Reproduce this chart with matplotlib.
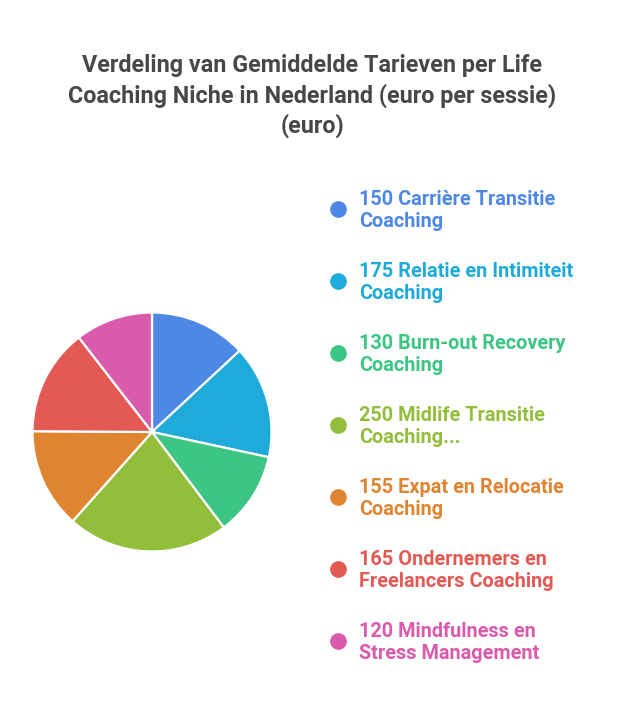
import matplotlib
matplotlib.use("Agg")
import matplotlib.pyplot as plt
from matplotlib.lines import Line2D

categories = [
    "Carrière Transitie\nCoaching",
    "Relatie en Intimiteit\nCoaching",
    "Burn-out Recovery\nCoaching",
    "Midlife Transitie\nCoaching...",
    "Expat en Relocatie\nCoaching",
    "Ondernemers en\nFreelancers Coaching",
    "Mindfulness en\nStress Management",
]
values = [150, 175, 130, 250, 155, 165, 120]
colors = ["#4E88E5", "#1FABDA", "#3CC583", "#93BE3B", "#DF8430", "#E35A55", "#DA5AAB"]
title = "Verdeling van Gemiddelde Tarieven per Life\nCoaching Niche in Nederland (euro per sessie)\n(euro)"

W, H = 628, 714
fig = plt.figure(figsize=(W / 100, H / 100), dpi=100)
fig.patch.set_facecolor("white")

cx, cy, r = 152, 432, 119.5
ax = fig.add_axes([(cx - r) / W, (H - cy - r) / H, 2 * r / W, 2 * r / H])
ax.pie(values, colors=colors, startangle=90, counterclock=False, radius=1,
       wedgeprops=dict(edgecolor="white", linewidth=1.6))
ax.set_xlim(-1, 1)
ax.set_ylim(-1, 1)
ax.set_aspect("equal")
ax.axis("off")

fig.text(312 / W, 1 - 96 / H, title, ha="center", va="center", fontsize=16.8,
         fontweight="bold", family="Roboto", color="#474747", linespacing=1.34)

y0 = 209
step = 72
for i, (cat, v, c) in enumerate(zip(categories, values, colors)):
    y = y0 + i * step
    fig.add_artist(Line2D([338 / W], [1 - y / H], marker="o", markersize=11,
                          color=c, transform=fig.transFigure))
    fig.text(359 / W, 1 - (y + 1.5) / H, f"{v} {cat}", ha="left", va="center",
             fontsize=14.3, fontweight="bold", family="Roboto", color=c,
             linespacing=1.25)

fig.savefig("out.png", dpi=100, facecolor="white")
